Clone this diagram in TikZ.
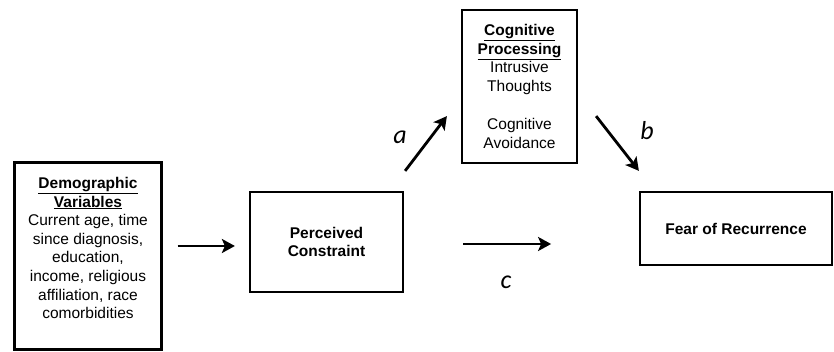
\documentclass[tikz,border=0pt]{standalone}
\usepackage{fontspec}
\setmainfont{Liberation Sans}
\newfontfamily\labfont{Carlito}
\usetikzlibrary{calc,arrows.meta}
\tikzset{
  boxn/.style={draw=black, line width=2.2pt, inner sep=0pt, fill=white},
  txt/.style={align=center, font=\fontsize{15.5}{18.6}\selectfont, inner sep=0pt},
  btxt/.style={align=center, font=\fontsize{15.5}{18.6}\selectfont\bfseries, inner sep=0pt},
  arr/.style={line width=2.8pt, -{Stealth[length=13pt,width=14pt,inset=3pt]}},
  lab/.style={font=\fontsize{26}{26}\selectfont\labfont\itshape, inner sep=0pt}
}
\begin{document}
\begin{tikzpicture}[x=1pt,y=-1pt]
\useasboundingbox (0,0) rectangle (834,352);
\node[boxn, minimum width=147pt, minimum height=187pt] (demo) at (88,256) {};
\node[txt] (demotext) at (88,248) {\textbf{\underline{Demographic}}\\\textbf{\underline{Variables}}\\Current age, time\\since diagnosis,\\education,\\income, religious\\affiliation, race\\comorbidities};
\node[boxn, btxt, minimum width=153pt, minimum height=100pt] (pc) at (326.5,242) {Perceived\\Constraint};
\node[boxn, txt, minimum width=115pt, minimum height=153pt] (cog) at (519.5,86.5) {\textbf{\underline{Cognitive}}\\\textbf{\underline{Processing}}\\Intrusive\\Thoughts\\[20pt]Cognitive\\Avoidance};
\node[boxn, btxt, minimum width=192pt, minimum height=73pt] (fear) at (736,228.5) {Fear of Recurrence};
\draw[arr] ($(demo.east)+(15,-10)$) -- ($(pc.west)+(-14,4)$);
\draw[arr] ($(pc.north east)+(1,-20)$) -- ($(cog.south west)+(-14,-48)$);
\draw[arr] ($(cog.south east)+(18,-48)$) -- ($(fear.north west)+(0,-20)$);
\draw[arr] ($(pc.east)+(59,2)$) -- ($(pc.east)+(147,2)$);
\node[lab] (la) at (400,137) {a};
\node[lab] (lb) at (647,131) {b};
\node[lab] (lc) at (506,282) {c};
\end{tikzpicture}
\end{document}
